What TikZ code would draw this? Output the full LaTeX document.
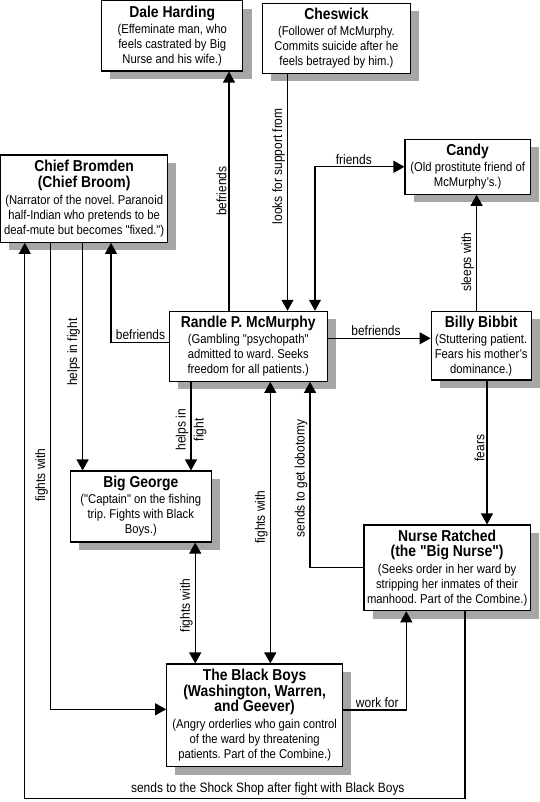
\documentclass[tikz,border=0pt]{standalone}
\usepackage{fontspec}
\setmainfont{Liberation Sans}[FakeStretch=0.88, Ligatures=TeXOff]
\usetikzlibrary{arrows.meta,shadows}
\newcommand\ttl[1]{{\fontsize{15.8}{16}\selectfont\bfseries #1}}
\frenchspacing
\begin{document}
\begin{tikzpicture}[x=1pt,y=-1pt,
  box/.style={draw=black, line width=1.1pt, fill=white, inner sep=0pt, align=center,
    font=\fontsize{12.8}{15}\selectfont,
    drop shadow={shadow xshift=8.7pt, shadow yshift=-8pt, fill=black!35, opacity=1}},
  conn/.style={line width=1.1pt, -{Triangle[length=11pt,width=12pt]}},
  conn2/.style={line width=1.1pt, {Triangle[length=11pt,width=12pt]}-{Triangle[length=11pt,width=12pt]}},
  lab/.style={font=\fontsize{13.6}{16}\selectfont, inner sep=2pt},
  vlab/.style={lab, rotate=90, anchor=south},
  hlab/.style={lab, anchor=south}]
\useasboundingbox (0,0) rectangle (540,802);

\node[box, minimum width=141.2pt, minimum height=70.4pt] (dale) at (172.2,35.8)
  {\ttl{Dale Harding}\\[1pt](Effeminate man, who\\feels castrated by Big\\Nurse and his wife.)};
\node[box, minimum width=148.1pt, minimum height=70pt] (ches) at (336.45,38.3)
  {\ttl{Cheswick}\\[1pt](Follower of McMurphy.\\Commits suicide after he\\feels betrayed by him.)};
\node[box, minimum width=125.3pt, minimum height=55pt] (candy) at (467.65,166.8)
  {\ttl{Candy}\\[1pt](Old prostitute friend of\\McMurphy’s.)};
\node[box, minimum width=167.1pt, minimum height=87.3pt] (chief) at (84.15,198.65)
  {\ttl{Chief Bromden}\\[0.5pt]\ttl{(Chief Broom)}\\[2pt](Narrator of the novel. Paranoid\\half-Indian who pretends to be\\deaf-mute but becomes "fixed.")};
\node[box, minimum width=157.7pt, minimum height=70pt] (mcm) at (248.25,346.3)
  {\ttl{Randle P. McMurphy}\\[1pt](Gambling "psychopath"\\admitted to ward. Seeks\\freedom for all patients.)};
\node[box, minimum width=100.2pt, minimum height=68.7pt] (billy) at (481.2,345.65)
  {\ttl{Billy Bibbit}\\[1pt](Stuttering patient.\\Fears his mother’s\\dominance.)};
\node[box, minimum width=141.2pt, minimum height=71pt] (george) at (140.8,506.5)
  {\ttl{Big George}\\[1pt]("Captain" on the fishing\\trip. Fights with Black\\Boys.)};
\node[box, minimum width=166.3pt, minimum height=85.7pt] (nurse) at (447.15,567.85)
  {\ttl{Nurse Ratched}\\[0.5pt]\ttl{(the "Big Nurse")}\\[2pt](Seeks order in her ward by\\stripping her inmates of their\\manhood. Part of the Combine.)};
\node[box, minimum width=175.9pt, minimum height=102.7pt] (bb) at (254.65,715.35)
  {\ttl{The Black Boys}\\[0.5pt]\ttl{(Washington, Warren,}\\[0.5pt]\ttl{and Geever)}\\[2pt](Angry orderlies who gain control\\of the ward by threatening\\patients. Part of the Combine.)};

% McMurphy -> Dale Harding
\draw[conn] (mcm.north -| 229,0) -- node[vlab, pos=0.5] {befriends} (dale.south -| 229,0);
% Cheswick -> McMurphy
\draw[conn] (ches.south -| 287.5,0) -- node[vlab, pos=0.39] {looks for support from} (mcm.north -| 287.5,0);
% McMurphy <-> Candy
\draw[conn2] (mcm.north -| 315,0) |- node[hlab, pos=0.717] {friends} (candy.west);
% McMurphy -> Chief
\draw[conn] (mcm.west |- 0,342.3) -| node[hlab, pos=0.245] {befriends} (chief.south -| 111,0);
% McMurphy -> Billy
\draw[conn] (mcm.east |- 0,338.3) -- node[hlab, pos=0.47] {befriends} (billy.west |- 0,338.3);
% Billy -> Candy
\draw[conn] (billy.north -| 476.6,0) -- node[vlab, pos=0.42] {sleeps with} (candy.south -| 476.6,0);
% Billy -> Nurse
\draw[conn] (billy.south -| 487,0) -- node[vlab, pos=0.47] {fears} (nurse.north -| 487,0);
% Chief -> Big George
\draw[conn] (chief.south -| 82.6,0) -- node[vlab, pos=0.48] {helps in fight} (george.north -| 82.6,0);
% McMurphy -> Big George
\draw[conn] (mcm.south -| 191,0) -- node[lab, rotate=90, align=center, pos=0.54, font=\fontsize{13.6}{18}\selectfont] {helps in\\fight} (george.north -| 191,0);
% Big George <-> Black Boys
\draw[conn2] (george.south -| 195.2,0) -- node[vlab, pos=0.52] {fights with} (bb.north -| 195.2,0);
% McMurphy <-> Black Boys
\draw[conn2] (mcm.south -| 270.3,0) -- node[vlab, pos=0.48] {fights with} (bb.north -| 270.3,0);
% Nurse -> McMurphy
\draw[conn] (nurse.west |- 0,567.7) -| node[vlab, pos=0.74] {sends to get lobotomy} (mcm.south -| 310,0);
% Chief -> Black Boys
\draw[conn] (chief.south -| 50.6,0) |- node[vlab, pos=0.249] {fights with} (bb.west |- 0,709.3);
% Black Boys -> Nurse
\draw[conn] (bb.east |- 0,710) -| node[hlab, pos=0.27] {work for} (nurse.south -| 406.3,0);
% Nurse -> Chief
\draw[conn] (nurse.south -| 465,0) |- node[hlab, pos=0.724] {sends to the Shock Shop after fight with Black Boys} (24.8,798.3) -- (chief.south -| 24.8,0);
\end{tikzpicture}
\end{document}
